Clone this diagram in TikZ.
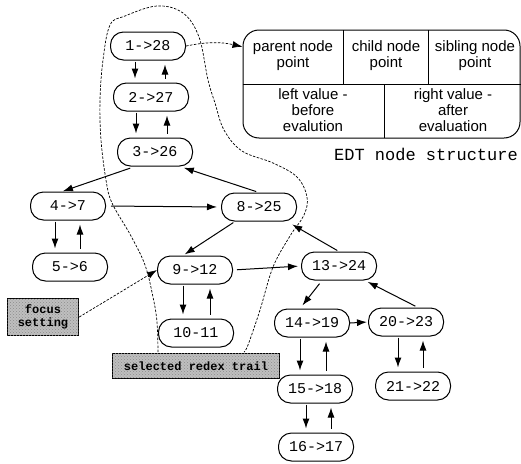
\documentclass[tikz,border=0pt]{standalone}
\usepackage{fontspec}
\setmainfont{Liberation Sans}
\setmonofont{Liberation Mono}
\usetikzlibrary{arrows.meta,patterns}
\begin{document}
\begin{tikzpicture}[x=1pt,y=-1pt,
 rnode/.style={draw,line width=1pt,rounded corners=13pt,minimum width=75pt,minimum height=28pt,font=\ttfamily\fontsize{15}{15}\selectfont,inner sep=0pt},
 arr/.style={-{Latex[length=10pt,width=7pt]},line width=1pt},
 dsh/.style={dash pattern=on 2.5pt off 1.5pt,line width=0.7pt},
 cell/.style={font=\fontsize{15}{16}\selectfont,align=center,inner sep=0pt},
 graybox/.style={draw,line width=1.5pt,fill=black!25,postaction={pattern=crosshatch dots,pattern color=black!45},font=\ttfamily\bfseries\fontsize{12}{13}\selectfont,align=center,inner sep=0pt}
]
\useasboundingbox (0,0) rectangle (521,463);

% nodes
\node[rnode] (n1) at (148,46) {1->28};
\node[rnode] (n2) at (151,97) {2->27};
\node[rnode] (n3) at (155,152) {3->26};
\node[rnode] (n4) at (68,206) {4->7};
\node[rnode] (n5) at (70,267) {5->6};
\node[rnode] (n8) at (259,207) {8->25};
\node[rnode] (n9) at (195,270) {9->12};
\node[rnode] (n10) at (196,333) {10-11};
\node[rnode] (n13) at (339,266) {13->24};
\node[rnode] (n14) at (312,323) {14->19};
\node[rnode] (n20) at (406,322) {20->23};
\node[rnode] (n15) at (315,389) {15->18};
\node[rnode] (n21) at (413,386) {21->22};
\node[rnode] (n16) at (316,447) {16->17};

% EDT node structure table
\node[draw,line width=1pt,rounded corners=16pt,minimum width=277pt,minimum height=108pt,inner sep=0pt] (edt) at (381.5,84) {};
\draw[line width=0.9pt] (edt.west) -- (edt.east);
\draw[line width=0.9pt] (343,30) -- (343,84);
\draw[line width=0.9pt] (428,30) -- (428,84);
\draw[line width=0.9pt] (384,84) -- (384,138);
\node[cell] (c1) at (293,56) {parent node\\point};
\node[cell] (c2) at (386,56) {child node\\point};
\node[cell] (c3) at (475,56) {sibling node\\point};
\node[cell] (c4) at (313,110) {left value -\\before\\evalution};
\node[cell] (c5) at (453,110) {right value -\\after\\evaluation};
\node[font=\ttfamily\fontsize{17}{17}\selectfont,inner sep=0pt] (lbl) at (426,154) {EDT node structure};

% gray label boxes
\node[graybox,minimum width=71pt,minimum height=37pt] (focus) at (43,317) {focus\\setting};
\node[graybox,minimum width=167pt,minimum height=25pt] (trail) at (196,366) {selected redex trail};

% selected region (dashed loop)
\draw[dsh] plot[smooth,tension=0.6] coordinates {(158,352) (157,322) (153,297) (145,265) (131,236) (112,203) (106,180) (101,140) (100,100) (103,60) (110,25) (125,16) (157,6) (183,13) (199,37) (208,80) (215,103) (224,130) (242,151) (273,163) (297,177) (307,197) (304,215) (290,236) (273,267) (260,310) (248,345) (244,352)};

% dashed connectors
\draw[dsh,-{Latex[length=10pt,width=7pt]}] (n1.east) to[bend left=12] (edt.165);
\draw[dsh,-{Latex[length=10pt,width=7pt]}] (focus.east) -- (n9.west);

% vertical pairs
\foreach \a/\b/\d/\u in {n1/n2/-13/17, n2/n3/-15/16, n4/n5/-13/12, n9/n10/-12/15, n14/n15/-12/14, n15/n16/-9/16, n20/n21/-8/17}{
  \draw[arr,shorten <=1pt,shorten >=4pt] ([xshift=\d pt]\a.south) -- ([xshift=\d pt]\a.south |- \b.north);
  \draw[arr,shorten <=4pt,shorten >=4pt] ([xshift=\u pt]\a.south |- \b.north) -- ([xshift=\u pt]\a.south);
}

% other connectors
\draw[arr,shorten <=5pt,shorten >=1pt] ([xshift=-20pt]n3.south) -- ([xshift=-6pt]n4.north);
\draw[arr,shorten <=3pt,shorten >=4pt] (n8.north) -- ([xshift=25pt]n3.south);
\draw[arr,shorten <=5pt,shorten >=4pt] (n4.east) -- (n8.west);
\draw[arr,shorten <=2pt,shorten >=2pt] ([xshift=-24pt]n8.south) -- ([xshift=-12pt]n9.north);
\draw[arr,shorten <=4pt,shorten >=3pt] (n9.east) -- (n13.west);
\draw[arr,shorten <=2pt,shorten >=6pt] (n13.north) -- ([xshift=28pt]n8.south);
\draw[arr,shorten <=4pt,shorten >=4pt] ([xshift=-17pt]n13.south) -- ([xshift=-12pt]n14.north);
\draw[arr,shorten <=3pt,shorten >=3pt] ([xshift=12pt]n20.north) -- ([xshift=26pt]n13.south);
\draw[arr,shorten <=0pt,shorten >=1pt] (n14.east) -- (n20.west);
\end{tikzpicture}
\end{document}
